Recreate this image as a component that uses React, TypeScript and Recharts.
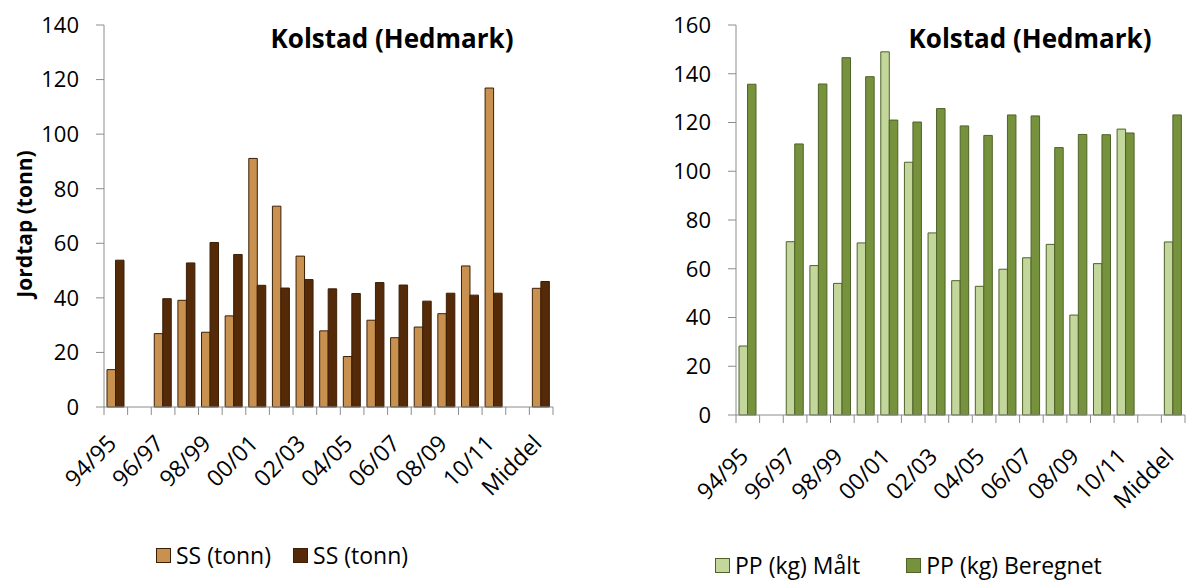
import { BarChart, Bar, XAxis, YAxis, Legend, Label } from "recharts"

const seasons = [
  "94/95", "95/96", "96/97", "97/98", "98/99", "99/00", "00/01", "01/02", "02/03", "03/04",
  "04/05", "05/06", "06/07", "07/08", "08/09", "09/10", "10/11", "", "Middel",
]

// Jordtap (tonn)
const ssMaalt = [13.7, null, 26.9, 39.1, 27.4, 33.4, 91.1, 73.6, 55.3, 27.9, 18.5, 31.8, 25.4, 29.3, 34.2, 51.7, 116.9, null, 43.5]
const ssBeregnet = [53.8, null, 39.7, 52.8, 60.3, 55.9, 44.6, 43.6, 46.7, 43.3, 41.6, 45.6, 44.7, 38.8, 41.7, 41.0, 41.7, null, 46.0]

// Fosfortap (kg)
const ppMaalt = [28.3, null, 71.1, 61.3, 54.0, 70.6, 149.0, 103.7, 74.7, 55.1, 52.8, 59.8, 64.5, 70.0, 41.0, 62.1, 117.3, null, 71.0]
const ppBeregnet = [135.7, null, 111.2, 135.8, 146.6, 138.8, 121.0, 120.2, 125.7, 118.6, 114.7, 123.1, 122.7, 109.7, 115.1, 115.0, 115.7, null, 123.1]

const soilTicks = [0, 20, 40, 60, 80, 100, 120, 140]
const phosTicks = [0, 20, 40, 60, 80, 100, 120, 140, 160]
// x ticks sit on the boundaries between seasons, like the category axis in Excel
const edgeTicks = seasons.map((_, i) => i).concat(seasons.length)

// each season occupies [i, i+1] on a numeric axis, bars centred at i + 0.5
const soilData = seasons.map((season, i) => ({ season, pos: i + 0.5, a: ssMaalt[i], b: ssBeregnet[i] }))
const phosData = seasons.map((season, i) => ({ season, pos: i + 0.5, a: ppMaalt[i], b: ppBeregnet[i] }))

const FONT = "'Open Sans', Lato, sans-serif"
const AXIS_GREY = "#8c8c8c"

function SlantTick({ x, y, width, payload, index, drop }: any) {
  const i = payload.value
  if (i >= seasons.length || index % 2 !== 0) return null
  const band = width / seasons.length
  const ax = x + band / 2 + 2
  const ay = y + drop
  return (
    <text x={ax} y={ay} textAnchor="end" transform={`rotate(-45 ${ax} ${ay})`}
      fontSize={23} fontFamily={FONT} fill="#000">
      {seasons[i]}
    </text>
  )
}

function AxisTitle({ viewBox, value, x, shift }: any) {
  const cy = viewBox.y + viewBox.height / 2 + shift
  return (
    <text x={x} y={cy} transform={`rotate(-90 ${x} ${cy})`} textAnchor="middle"
      dominantBaseline="central" fontSize={21} fontWeight={700} fontFamily={FONT} fill="#000">
      {value}
    </text>
  )
}

function SwatchLegend({ payload, edge, gap }: any) {
  // keep series order (a before b) instead of alphabetical
  const items = [...(payload || [])].sort((l: any, r: any) => String(l.dataKey).localeCompare(String(r.dataKey)))
  return (
    <div style={{ display: "flex", gap, fontFamily: FONT, fontSize: 23, color: "#000", lineHeight: "26px" }}>
      {items.map((p: any) => (
        <div key={String(p.dataKey)} style={{ display: "flex", alignItems: "center" }}>
          <span style={{ width: 13, height: 13, background: p.color, border: `1px solid ${edge}`, marginRight: 5 }} />
          <span>{p.value}</span>
        </div>
      ))}
    </div>
  )
}

type PanelProps = {
  data: any[]
  yMax: number
  yTicks: number[]
  yTitle: string
  titleX: number
  axisWidth: number
  plotBottom: number
  labelDrop: number
  width: number
  rightGap: number
  names: [string, string]
  fills: [string, string]
  edge: string
  legendLeft: number
  legendTop: number
  legendGap: number
  titleLeft: number
}

function Panel(p: PanelProps) {
  return (
    <div style={{ position: "relative", width: p.width, height: 580 }}>
      <BarChart width={p.width} height={580} data={p.data}
        margin={{ top: 25, right: p.rightGap, bottom: 0, left: 0 }}
        barCategoryGap="14%" barGap={0}>
        <XAxis dataKey="pos" type="number" domain={[0, seasons.length]} ticks={edgeTicks}
          allowDataOverflow interval={0} tickSize={8} tickMargin={0} height={580 - p.plotBottom}
          axisLine={{ stroke: AXIS_GREY }} tickLine={{ stroke: AXIS_GREY }}
          tick={<SlantTick drop={p.labelDrop} />} />
        <YAxis width={p.axisWidth} domain={[0, p.yMax]} ticks={p.yTicks} interval={0}
          tickSize={8} tickMargin={17} axisLine={{ stroke: AXIS_GREY }} tickLine={{ stroke: AXIS_GREY }}
          tick={{ fontSize: 22, fill: "#000", fontFamily: FONT }}>
          <Label content={(lp: any) => <AxisTitle {...lp} x={p.titleX} value={p.yTitle} shift={8} />} />
        </YAxis>
        <Legend layout="horizontal" verticalAlign="middle" align="center"
          wrapperStyle={{ left: p.legendLeft, top: p.legendTop, width: "auto" }}
          content={(lp: any) => <SwatchLegend {...lp} edge={p.edge} gap={p.legendGap} />} />
        <Bar dataKey="a" name={p.names[0]} fill={p.fills[0]} stroke={p.edge} strokeWidth={1}
          barSize={8.5} isAnimationActive={false} />
        <Bar dataKey="b" name={p.names[1]} fill={p.fills[1]} stroke={p.edge} strokeWidth={1}
          barSize={8.5} isAnimationActive={false} />
      </BarChart>
      <div style={{ position: "absolute", left: p.titleLeft, top: 20, fontFamily: FONT, fontSize: 26,
        fontWeight: 700, color: "#000", whiteSpace: "nowrap", transform: "translateX(-50%)" }}>
        Kolstad (Hedmark)
      </div>
    </div>
  )
}

export default function App() {
  return (
    <div style={{ position: "absolute", left: 0, top: 0, width: 1186, height: 580, background: "#fff", display: "flex" }}>
      <Panel data={soilData} yMax={140} yTicks={soilTicks} yTitle="Jordtap (tonn)" titleX={24}
        axisWidth={104} plotBottom={407} labelDrop={30} width={590} rightGap={37}
        names={["SS (tonn)", "SS (tonn)"]} fills={["#C8914F", "#552A08"]} edge="#3d1f06"
        legendLeft={156} legendTop={542} legendGap={22} titleLeft={392} />
      <Panel data={phosData} yMax={160} yTicks={phosTicks} yTitle="Fosfortap (kg)" titleX={638}
        axisWidth={146} plotBottom={415} labelDrop={35} width={596} rightGap={1}
        names={["PP (kg) Målt", "PP (kg) Beregnet"]} fills={["#C3D69B", "#76923C"]} edge="#4F6228"
        legendLeft={125} legendTop={552} legendGap={46} titleLeft={440} />
    </div>
  )
}
